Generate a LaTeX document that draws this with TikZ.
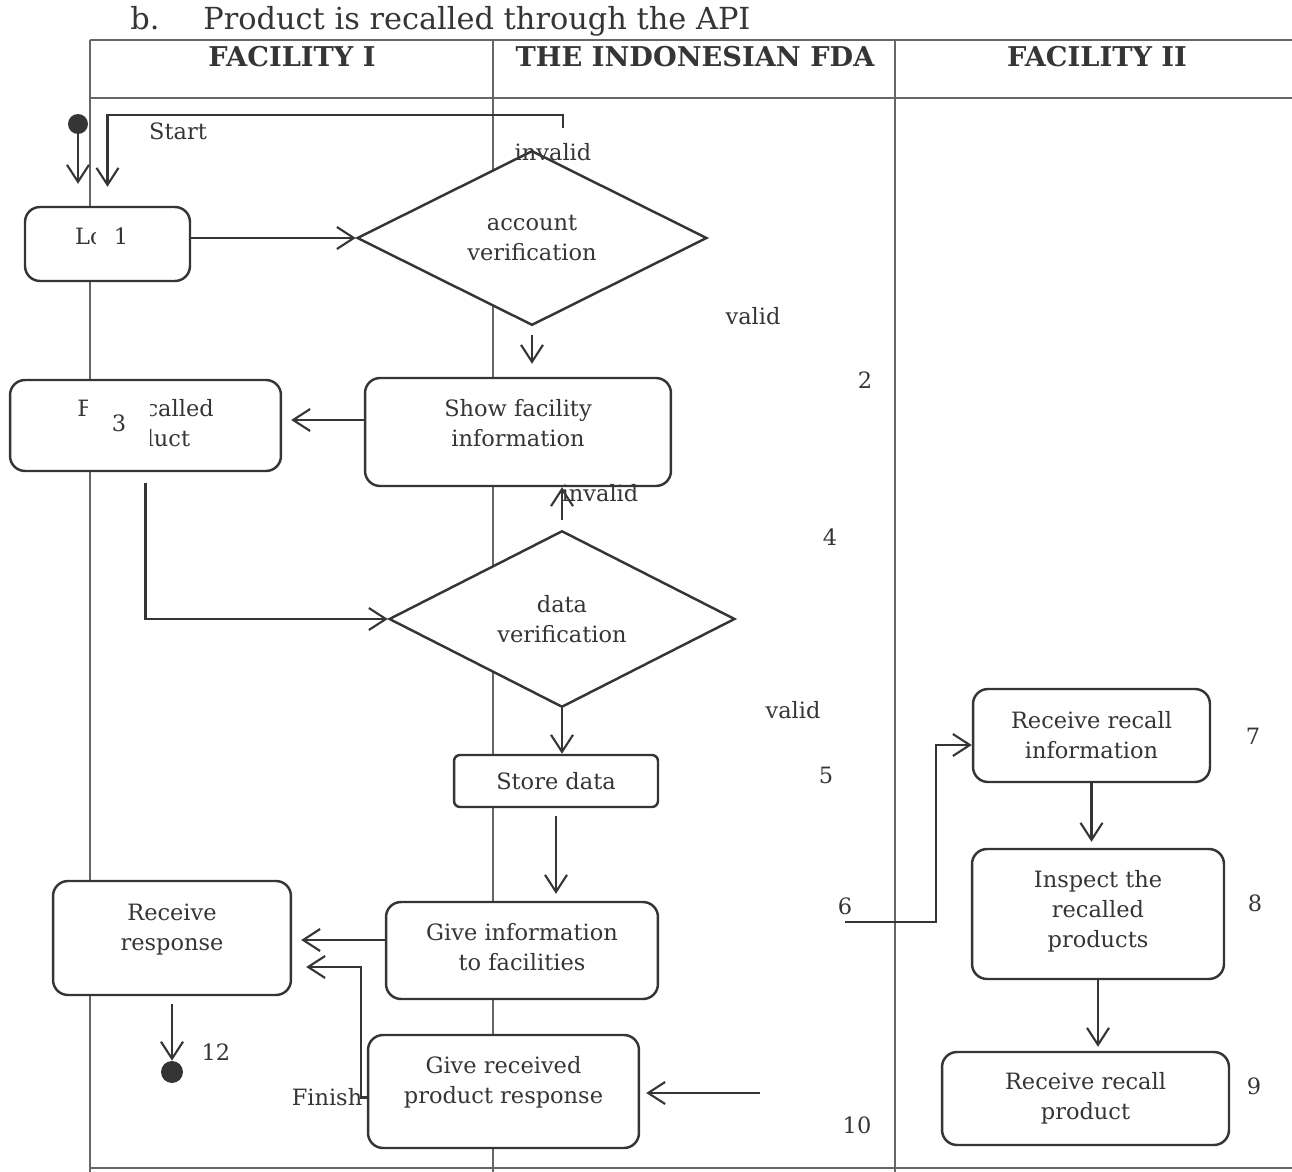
\documentclass[tikz,border=0pt]{standalone}
\usepackage{fontspec}
\setmainfont{DejaVu Serif}
\usetikzlibrary{positioning, calc, arrows.meta, shapes.geometric}
\tikzset{>={Straight Barb[length=3.4mm,width=4.4mm]}}
\definecolor{ink}{HTML}{353535}
\definecolor{lane}{HTML}{666666}

\begin{document}
\begin{tikzpicture}
    [
        x=0.02cm, y=-0.02cm,
        every node/.style={text=ink, font=\fontsize{12.8}{17}\selectfont},
        act_node/.style={rectangle, rounded corners=3mm, draw=ink, fill=white, line width=1.4pt, align=center, inner sep=2pt},
        lift_text/.style={text depth=#1},
        dec_node/.style={diamond, draw=ink, fill=white, line width=1.4pt, align=center, inner sep=0pt},
        dot_node/.style={circle, fill=ink, inner sep=0pt},
        mask_node/.style={fill=white, inner sep=0pt},
        lbl_node/.style={inner sep=0pt},
        head_node/.style={inner sep=0pt, font=\fontsize{15.5}{18}\selectfont\bfseries},
        flow/.style={draw=ink, line width=1.2pt},
        swim/.style={draw=lane, line width=0.6pt},
    ]

  \useasboundingbox (0,0) rectangle (1292,1172);

  \draw[swim] (90,40) -- (1292,40);
  \draw[swim] (90,98) -- (1292,98);
  \draw[swim] (90,1168) -- (1292,1168);
  \draw[swim] (90,40) -- (90,1172);
  \draw[swim] (493,40) -- (493,1172);
  \draw[swim] (895,40) -- (895,1172);

  \node[lbl_node, anchor=base west, font=\fontsize{17.3}{20}\selectfont] (item) at (130,30) {b.};
  \node[lbl_node, anchor=base west, font=\fontsize{17.3}{20}\selectfont] (title) at (203,30) {Product is recalled through the API};

  \node[head_node] (lane1) at (292,57) {FACILITY I};
  \node[head_node] (lane2) at (695,57) {THE INDONESIAN FDA};
  \node[head_node] (lane3) at (1097,57) {FACILITY II};

  \node[dot_node, minimum size=0.4cm] (start) at (78,124) {};
  \node[lbl_node] (startlbl) at (178,131) {Start};

  \node[act_node, lift_text=0.32cm, minimum width=3.3cm, minimum height=1.48cm] (login) at (107.5,244) {Login};
  \node[mask_node, minimum width=1.0cm, minimum height=0.8cm] (n1) at (121,236) {1};

  \node[dec_node, minimum width=7cm, minimum height=3.3cm] (acc) at (532,238) {account\\verification};
  \node[lbl_node] (inv1lbl) at (553,152) {invalid};
  \node[lbl_node] (val1lbl) at (753,316) {valid};
  \node[lbl_node] (n2) at (865,380) {2};

  \node[act_node, lift_text=0.35cm, minimum width=6.12cm, minimum height=2.16cm] (show) at (518,432) {Show facility\\information};
  \node[act_node, minimum width=5.42cm, minimum height=1.82cm] (fill) at (145.5,425.5) {Fill recalled\\product};
  \node[mask_node, minimum width=1.24cm, minimum height=1.14cm] (n3) at (119,423) {3};

  \node[dec_node, minimum width=6.92cm, minimum height=3.36cm] (data) at (562,619) {data\\verification};
  \node[lbl_node] (inv2lbl) at (600,493) {invalid};
  \node[lbl_node] (n4) at (830,537) {4};
  \node[lbl_node] (val2lbl) at (793,710) {valid};

  \node[act_node, rounded corners=1.2mm, minimum width=4.08cm, minimum height=1.04cm] (store) at (556,781) {Store data};
  \node[lbl_node] (n5) at (826,775) {5};

  \node[act_node, lift_text=0.15cm, minimum width=5.44cm, minimum height=1.94cm] (giveinfo) at (522,950.5) {Give information\\to facilities};
  \node[act_node, lift_text=0.42cm, minimum width=4.76cm, minimum height=2.28cm] (resp) at (172,938) {Receive\\response};
  \node[dot_node, minimum size=0.44cm] (end) at (172,1072) {};
  \node[lbl_node] (n12) at (216,1052) {12};

  \node[lbl_node] (finish) at (327,1097) {Finish};
  \node[act_node, lift_text=0.45cm, minimum width=5.42cm, minimum height=2.26cm] (gr) at (503.5,1091.5) {Give received\\product response};
  \node[lbl_node] (n10) at (857,1125) {10};

  \node[act_node, minimum width=4.74cm, minimum height=1.86cm] (recinfo) at (1091.5,735.5) {Receive recall\\information};
  \node[lbl_node] (n7) at (1253,736) {7};
  \node[lbl_node] (n6) at (845,906) {6};
  \node[act_node, lift_text=0.2cm, minimum width=5.04cm, minimum height=2.6cm] (inspect) at (1098,914) {Inspect the\\recalled\\products};
  \node[lbl_node] (n8) at (1255,903) {8};
  \node[act_node, minimum width=5.74cm, minimum height=1.86cm] (recprod) at (1085.5,1098.5) {Receive recall\\product};
  \node[lbl_node] (n9) at (1254,1086) {9};

  \coordinate (inv1) at (563,128);
  \coordinate (in6) at (845,922);
  \coordinate (in10) at (760,1093);

  \draw[flow, ->, shorten >=0.44cm] (start) -- (start |- login.north);
  \draw[flow, ->, shorten >=0.38cm] (inv1) -- ++(0,-13) -| (login.north);
  \draw[flow, ->] (acc.west -| login.east) -- (acc.west);
  \draw[flow, ->, shorten <=0.16cm, shorten >=0.26cm] (acc.south) -- (acc.south |- show.north);
  \draw[flow, ->, shorten >=0.18cm] ([yshift=0.24cm]show.west) -- ([yshift=0.24cm]show.west -| fill.east);
  \draw[flow, ->, shorten <=0.22cm] (fill.south) |- (data.west);
  \draw[flow, ->, shorten <=0.2cm] (data.north) -- (data.north |- show.south);
  \draw[flow, ->] (data.south) -- (data.south |- store.north);
  \draw[flow, ->, shorten <=0.16cm, shorten >=0.14cm] (store.south) -- (store.south |- giveinfo.north);
  \draw[flow, ->, shorten >=0.18cm] ([yshift=0.21cm]giveinfo.west) -- ([yshift=0.21cm]giveinfo.west -| resp.east);
  \draw[flow, ->, shorten <=0.16cm] (resp.south) -- (end);
  \draw[flow, ->, shorten >=0.28cm] ([yshift=-0.12cm]gr.west) -- ++(-6,0) |- ([yshift=-0.58cm]resp.east);
  \draw[flow, ->, shorten >=0.12cm] (in10) -- (in10 -| gr.east);
  \draw[flow, ->] (in6) -- ++(91,0) |- ([yshift=-0.19cm]recinfo.west);
  \draw[flow, ->, shorten >=0.12cm] (recinfo.south) -- (recinfo.south |- inspect.north);
  \draw[flow, ->, shorten >=0.08cm] (inspect.south) -- (inspect.south |- recprod.north);
\end{tikzpicture}
\end{document}
